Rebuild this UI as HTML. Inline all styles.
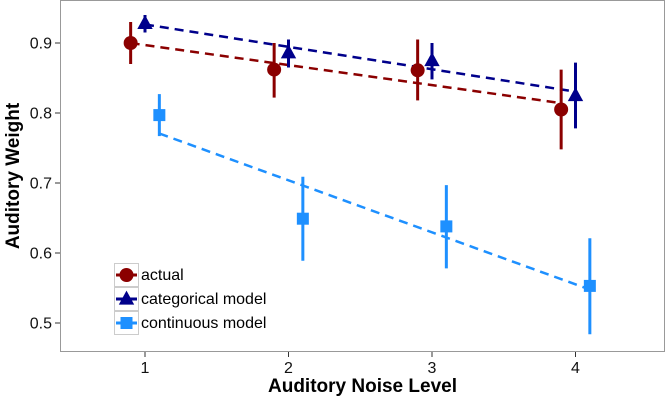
<!DOCTYPE html>
<html><head><meta charset="utf-8"><style>
body{margin:0;background:#fff}
svg{display:block;font-family:"Liberation Sans",sans-serif}
</style></head><body>
<svg id="c" width="666" height="400" viewBox="0 0 666 400"></svg>
<script>
const categories=[1,2,3,4];
const actual=[0.900,0.862,0.861,0.805];
const actualLo=[0.870,0.822,0.818,0.748];
const actualHi=[0.930,0.900,0.905,0.862];
const categorical=[0.928,0.886,0.875,0.825];
const categoricalLo=[0.915,0.865,0.848,0.778];
const categoricalHi=[0.940,0.905,0.900,0.872];
const continuous=[0.797,0.649,0.638,0.553];
const continuousLo=[0.767,0.589,0.578,0.484];
const continuousHi=[0.827,0.709,0.697,0.621];
const yTicks=[0.5,0.6,0.7,0.8,0.9];
const xTicks=[1,2,3,4];

const svg=document.getElementById('c');
const NS='http://www.w3.org/2000/svg';
const L=60,R=665,T=0,B=352;
const x=v=>145+(v-1)*143.5;
const y=v=>43+(0.9-v)*700;
function mk(tag,attrs,parent){const e=document.createElementNS(NS,tag);for(const k in attrs)e.setAttribute(k,attrs[k]);(parent||svg).appendChild(e);return e;}

const frame=mk('rect',{x:L+0.5,y:T+0.5,width:R-L-1,height:B-T-1,fill:'#fff',stroke:'#999','stroke-width':1});



yTicks.forEach(t=>{
  const l=mk('line',{x1:L-5,x2:L,y1:y(t),y2:y(t),stroke:'#333'});
  
  
  const tx=mk('text',{x:L-8,y:y(t)+5.5,'text-anchor':'end','font-size':16,fill:'#111'});
  tx.textContent=t.toFixed(1);
  
  
});
xTicks.forEach(t=>{
  const l=mk('line',{x1:x(t),x2:x(t),y1:B,y2:B+5,stroke:'#333'});
  
  
  const tx=mk('text',{x:x(t),y:B+21,'text-anchor':'middle','font-size':16,fill:'#111'});
  tx.textContent=t;
  
  
});
const xt=mk('text',{x:(L+R)/2,y:392,'text-anchor':'middle','font-size':19,'font-weight':'bold',fill:'#000'});
xt.textContent='Auditory Noise Level';


const yt=mk('text',{x:0,y:0,'text-anchor':'middle','font-size':19,'font-weight':'bold',fill:'#000',transform:`translate(19,${(T+B)/2}) rotate(-90)`});
yt.textContent='Auditory Weight';



function marker(shape,cx,cy,col,s){
  if(shape==='circle')return mk('circle',{cx,cy,r:s,fill:col});
  if(shape==='tri')return mk('polygon',{points:`${cx},${cy-s*1.2} ${cx-s*1.1},${cy+s*0.8} ${cx+s*1.1},${cy+s*0.8}`,fill:col});
  return mk('rect',{x:cx-s,y:cy-s,width:2*s,height:2*s,fill:col});
}
const series=[
 {name:'actual',vals:actual,lo:actualLo,hi:actualHi,off:-0.1,col:'#8b0000',shape:'circle'},
 {name:'categorical',vals:categorical,lo:categoricalLo,hi:categoricalHi,off:0,col:'#00008b',shape:'tri'},
 {name:'continuous',vals:continuous,lo:continuousLo,hi:continuousHi,off:0.1,col:'#1e90ff',shape:'square'}
];
series.forEach(s=>{
  const xs=categories.map(c=>c+s.off);
  const mx=xs.reduce((a,b)=>a+b)/xs.length,my=s.vals.reduce((a,b)=>a+b)/s.vals.length;
  let num=0,den=0;xs.forEach((v,i)=>{num+=(v-mx)*(s.vals[i]-my);den+=(v-mx)**2;});
  const sl=num/den,x0=xs[0],x1=xs[xs.length-1];
  const ln=mk('line',{x1:x(x0),y1:y(my+sl*(x0-mx)),x2:x(x1),y2:y(my+sl*(x1-mx)),stroke:s.col,'stroke-width':2.5,'stroke-dasharray':'9,6'});
  
  
});
series.forEach(s=>{
  categories.forEach((c,i)=>{
    const cx=x(c+s.off);
    const e=mk('line',{x1:cx,x2:cx,y1:y(s.lo[i]),y2:y(s.hi[i]),stroke:s.col,'stroke-width':3});
    
    
    const m=marker(s.shape,cx,y(s.vals[i]),s.col,s.shape==='square'?6:7);
    
    
  });
});
const lg=mk('g',{});


const labels=['actual','categorical model','continuous model'];
series.forEach((s,i)=>{
  const ty=263+i*24;
  const b=mk('rect',{x:114.5,y:ty+0.5,width:24,height:23,fill:'#fff',stroke:'#ccc'},lg);
  
  
  const l=mk('line',{x1:116,x2:137,y1:ty+12,y2:ty+12,stroke:s.col,'stroke-width':3},lg);
  
  
  const m=marker(s.shape,126.5,ty+12,s.col,s.shape==='square'?6:7);lg.appendChild(m);
  
  
  const t=mk('text',{x:141,y:ty+17,'font-size':16,fill:'#000'},lg);
  t.textContent=labels[i];
  
  
});
</script>
</body></html>
